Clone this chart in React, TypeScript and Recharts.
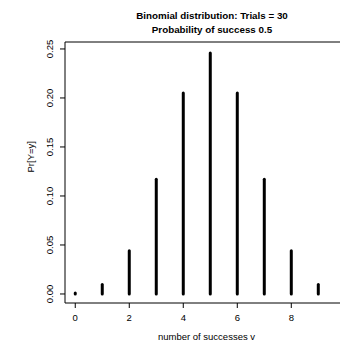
import { ComposedChart, Bar, XAxis, YAxis, ReferenceLine } from "recharts";

// ─── Data ─────────────────────────────────────────────────────────────────────

const SUCCESSES: number[] = [0, 1, 2, 3, 4, 5, 6, 7, 8, 9];
const PROBABILITIES: number[] = [
  0.001, 0.0098, 0.044, 0.117, 0.205, 0.246, 0.205, 0.117, 0.044, 0.0098,
];
const X_TICKS: number[] = [0, 2, 4, 6, 8];
const Y_TICKS: number[] = [0, 0.05, 0.1, 0.15, 0.2, 0.25];

const DATA = SUCCESSES.map((s, i) => ({ s, p: PROBABILITIES[i] }));

// ─── Styles ───────────────────────────────────────────────────────────────────

const FONT = "'Liberation Sans', Arial, Helvetica, sans-serif";
const Y_MAX = 0.2571;

function YTick(props: any) {
  const { x, y, payload } = props;
  return (
    <text
      x={x}
      y={y}
      transform={`rotate(-90, ${x}, ${y})`}
      textAnchor="middle"
      dy="0.35em"
      fontFamily={FONT}
      fontSize={9.5}
      fill="#000"
    >
      {Number(payload.value).toFixed(2)}
    </text>
  );
}

function Stick(props: any) {
  const { x, y, width, height } = props;
  const cx = x + width / 2;
  return (
    <line
      x1={cx}
      x2={cx}
      y1={y}
      y2={y + height}
      stroke="#000"
      strokeWidth={3}
      strokeLinecap="round"
    />
  );
}

export default function App() {
  return (
    <div
      style={{
        position: "absolute",
        left: 0,
        top: 0,
        width: 340,
        height: 342,
        overflow: "hidden",
        background: "#fff",
        fontFamily: FONT,
      }}
    >
      <div
        style={{
          position: "absolute",
          left: 112,
          width: 200,
          top: 9,
          textAlign: "center",
          fontWeight: "bold",
          fontSize: 9.8,
          lineHeight: "14px",
          color: "#000",
        }}
      >
        Binomial distribution: Trials = 30
        <br />
        Probability of success 0.5
      </div>
      <ComposedChart
        width={360}
        height={342}
        data={DATA}
        margin={{ top: 42, right: 12, bottom: 0, left: 0 }}
      >
        <XAxis
          dataKey="s"
          type="number"
          domain={[-0.38, 10.1]}
          ticks={X_TICKS}
          interval={0}
          allowDataOverflow
          stroke="#000"
          tickSize={5}
          tickMargin={6}
          height={39}
          tick={{ fill: "#000", fontSize: 9.5, fontFamily: FONT }}
          label={{
            value: "number of successes v",
            position: "insideBottom",
            offset: 2,
            fill: "#000",
            fontSize: 9.5,
            fontFamily: FONT,
          }}
        />
        <YAxis
          type="number"
          domain={[-0.0092, Y_MAX]}
          ticks={Y_TICKS}
          interval={0}
          allowDataOverflow
          stroke="#000"
          tickSize={5}
          tickMargin={10}
          width={65}
          tick={<YTick />}
          label={{
            value: "Pr[Y=y]",
            angle: -90,
            position: "insideLeft",
            offset: 31,
            fill: "#000",
            fontSize: 9.5,
            fontFamily: FONT,
          }}
        />
        <ReferenceLine y={Y_MAX} stroke="#000" />
        <Bar
          dataKey="p"
          barSize={3}
          shape={<Stick />}
          isAnimationActive={false}
        />
      </ComposedChart>
    </div>
  );
}
